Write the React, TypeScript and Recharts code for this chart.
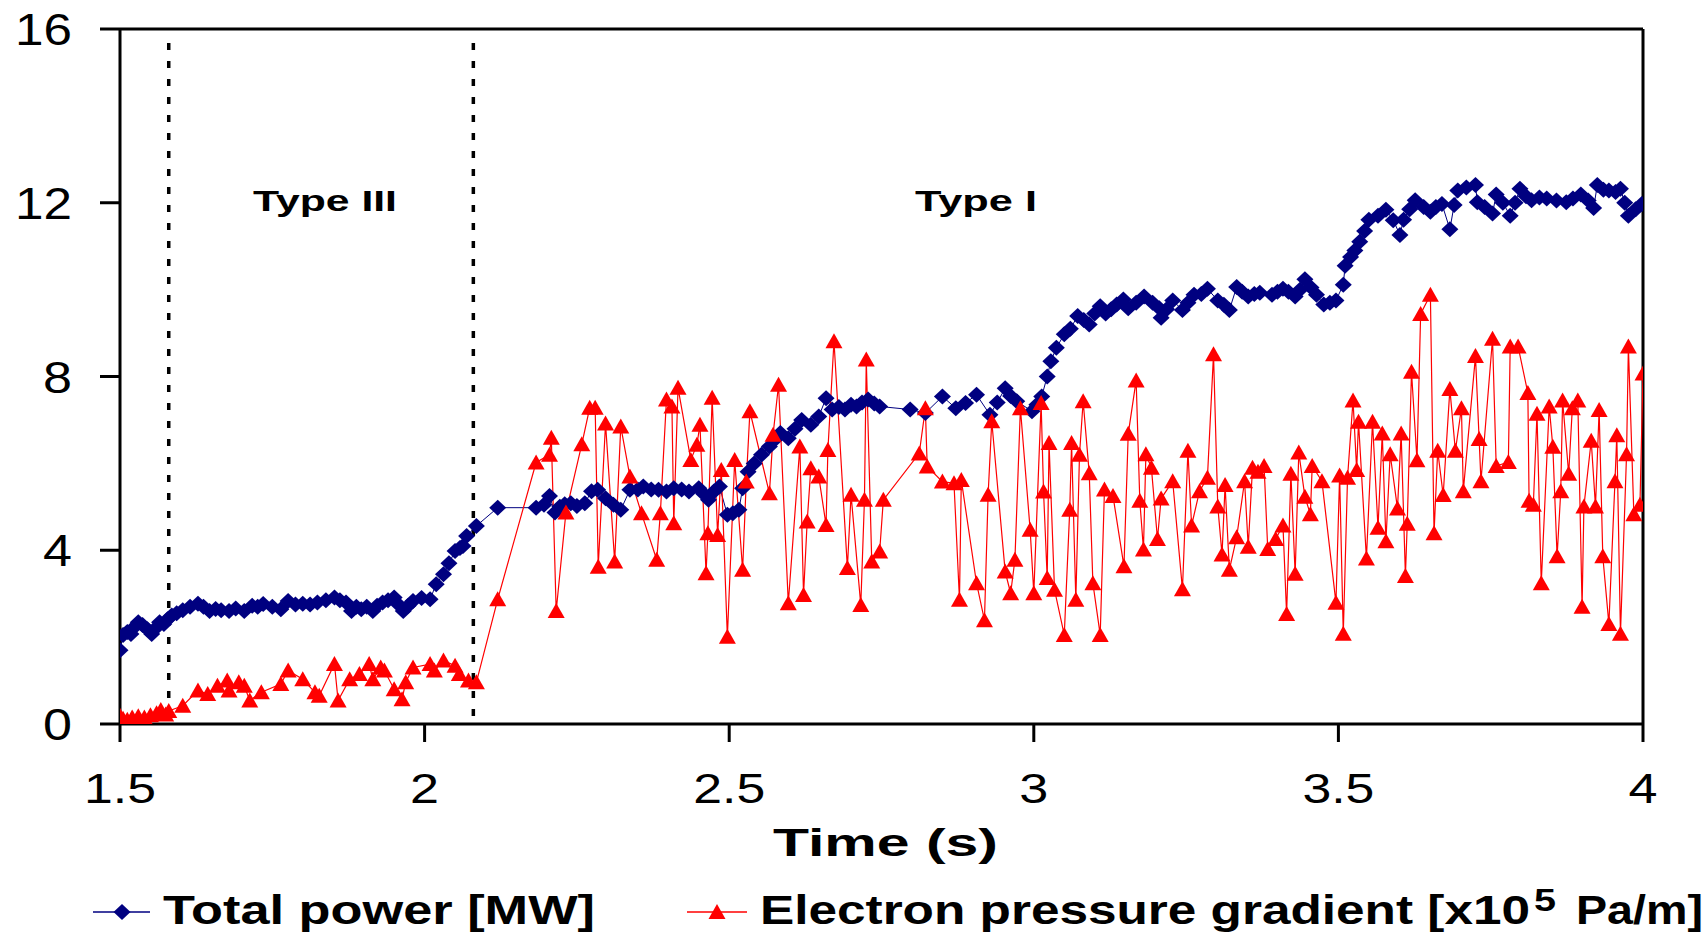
import React from 'react';
import { LineChart, Line, XAxis, YAxis, ReferenceLine } from 'recharts';

const FONT = '"Liberation Sans", Arial, sans-serif';
const NAVY = '#000080';
const RED = '#ff0000';

// Total power [MW]
const powerTime = [
  1.5, 1.505, 1.512, 1.518, 1.525, 1.53, 1.537, 1.545, 1.552, 1.558, 1.565, 1.572, 1.578, 1.585, 1.593,
  1.603, 1.615, 1.628, 1.637, 1.647, 1.657, 1.666, 1.679, 1.69, 1.704, 1.717, 1.726, 1.735, 1.75, 1.764,
  1.776, 1.788, 1.8, 1.812, 1.824, 1.838, 1.852, 1.861, 1.871, 1.88, 1.888, 1.896, 1.905, 1.915, 1.922,
  1.931, 1.94, 1.95, 1.957, 1.965, 1.973, 1.981, 1.995, 2.009, 2.019, 2.031, 2.04, 2.05, 2.058, 2.063,
  2.069, 2.085, 2.12, 2.183, 2.196, 2.205, 2.214, 2.222, 2.23, 2.24, 2.25, 2.263, 2.274, 2.284, 2.297,
  2.31, 2.322, 2.337, 2.35, 2.359, 2.372, 2.384, 2.397, 2.409, 2.422, 2.434, 2.45, 2.458, 2.466, 2.475,
  2.484, 2.497, 2.506, 2.516, 2.522, 2.531, 2.541, 2.553, 2.566, 2.575, 2.584, 2.597, 2.608, 2.619, 2.634,
  2.647, 2.659, 2.669, 2.68, 2.69, 2.7, 2.709, 2.718, 2.728, 2.738, 2.747, 2.797, 2.822, 2.85, 2.872,
  2.888, 2.906, 2.928, 2.94, 2.953, 2.962, 2.972, 2.997, 3.005, 3.013, 3.022, 3.028, 3.037, 3.05, 3.06,
  3.072, 3.082, 3.091, 3.1, 3.109, 3.118, 3.127, 3.136, 3.147, 3.155, 3.168, 3.181, 3.195, 3.206, 3.209,
  3.218, 3.228, 3.244, 3.253, 3.263, 3.275, 3.285, 3.302, 3.312, 3.321, 3.333, 3.342, 3.352, 3.362, 3.371,
  3.391, 3.4, 3.409, 3.418, 3.429, 3.437, 3.445, 3.455, 3.464, 3.476, 3.486, 3.496, 3.508, 3.511, 3.52,
  3.527, 3.535, 3.543, 3.55, 3.565, 3.578, 3.59, 3.601, 3.607, 3.617, 3.626, 3.64, 3.651, 3.66, 3.67,
  3.683, 3.69, 3.696, 3.71, 3.725, 3.728, 3.74, 3.753, 3.759, 3.77, 3.782, 3.79, 3.798, 3.808, 3.817,
  3.83, 3.842, 3.858, 3.874, 3.885, 3.898, 3.91, 3.919, 3.925, 3.935, 3.944, 3.955, 3.963, 3.97, 3.976,
  3.988, 3.998,
];
const powerValue = [
  1.7, 2.05, 2.12, 2.07, 2.25, 2.34, 2.28, 2.18, 2.07, 2.2, 2.34, 2.3, 2.41, 2.5, 2.55,
  2.62, 2.7, 2.77, 2.7, 2.6, 2.65, 2.62, 2.6, 2.66, 2.6, 2.72, 2.7, 2.76, 2.7, 2.64,
  2.83, 2.75, 2.77, 2.75, 2.8, 2.85, 2.91, 2.85, 2.8, 2.6, 2.7, 2.64, 2.7, 2.6, 2.72,
  2.8, 2.85, 2.91, 2.75, 2.6, 2.72, 2.83, 2.9, 2.87, 3.22, 3.45, 3.7, 3.98, 4.05, 4.1,
  4.33, 4.56, 4.98, 4.98, 5.05, 5.25, 4.87, 5.0, 5.06, 5.08, 5.02, 5.08, 5.36, 5.39, 5.2,
  5.05, 4.93, 5.39, 5.4, 5.47, 5.4, 5.39, 5.35, 5.43, 5.4, 5.35, 5.43, 5.3, 5.16, 5.35,
  5.47, 4.82, 4.85, 4.93, 5.43, 5.81, 6.0, 6.2, 6.39, 6.55, 6.7, 6.58, 6.8, 7.0, 6.89,
  7.08, 7.5, 7.24, 7.3, 7.24, 7.35, 7.31, 7.4, 7.47, 7.38, 7.31, 7.24, 7.16, 7.54, 7.27,
  7.39, 7.58, 7.12, 7.4, 7.73, 7.55, 7.43, 7.2, 7.35, 7.54, 8.0, 8.35, 8.66, 8.97, 9.1,
  9.39, 9.3, 9.2, 9.45, 9.62, 9.45, 9.55, 9.66, 9.77, 9.57, 9.7, 9.84, 9.7, 9.57, 9.35,
  9.55, 9.75, 9.53, 9.7, 9.88, 9.9, 10.02, 9.75, 9.65, 9.53, 10.06, 9.95, 9.84, 9.9, 9.93,
  9.88, 9.95, 10.02, 9.95, 9.84, 10.0, 10.24, 10.05, 9.88, 9.66, 9.7, 9.75, 10.11, 10.55, 10.75,
  10.9, 11.1, 11.35, 11.61, 11.7, 11.84, 11.6, 11.26, 11.61, 11.85, 12.06, 11.9, 11.79, 11.9, 11.97,
  11.39, 11.95, 12.28, 12.35, 12.41, 12.01, 11.9, 11.75, 12.19, 12.0, 11.7, 12.0, 12.32, 12.15, 12.06,
  12.12, 12.1, 12.05, 12.01, 12.1, 12.19, 12.05, 11.88, 12.41, 12.3, 12.28, 12.25, 12.32, 12.0, 11.7,
  11.85, 11.97,
];

// Electron pressure gradient [x10^5 Pa/m]
const gradTime = [
  1.5, 1.505, 1.512, 1.52, 1.53, 1.54, 1.55, 1.56, 1.567, 1.575, 1.58, 1.603, 1.628, 1.644, 1.66,
  1.676, 1.679, 1.695, 1.704, 1.713, 1.732, 1.764, 1.776, 1.8, 1.82, 1.827, 1.852, 1.858, 1.877, 1.893,
  1.909, 1.915, 1.928, 1.934, 1.95, 1.963, 1.969, 1.981, 2.009, 2.016, 2.031, 2.05, 2.057, 2.072, 2.085,
  2.12, 2.183, 2.205, 2.208, 2.216, 2.232, 2.258, 2.271, 2.28, 2.285, 2.297, 2.312, 2.322, 2.337, 2.356,
  2.381, 2.387, 2.397, 2.406, 2.409, 2.416, 2.437, 2.447, 2.452, 2.462, 2.465, 2.472, 2.481, 2.487, 2.497,
  2.509, 2.522, 2.528, 2.534, 2.566, 2.572, 2.581, 2.597, 2.616, 2.622, 2.628, 2.634, 2.647, 2.659, 2.662,
  2.672, 2.694, 2.7, 2.716, 2.722, 2.725, 2.734, 2.747, 2.753, 2.812, 2.822, 2.825, 2.85, 2.869, 2.878,
  2.881, 2.906, 2.919, 2.925, 2.931, 2.953, 2.962, 2.969, 2.978, 2.994, 3.0, 3.012, 3.016, 3.022, 3.025,
  3.034, 3.05, 3.059, 3.062, 3.069, 3.075, 3.081, 3.091, 3.097, 3.109, 3.116, 3.13, 3.148, 3.155, 3.168,
  3.174, 3.18, 3.184, 3.193, 3.203, 3.209, 3.228, 3.244, 3.253, 3.259, 3.272, 3.285, 3.295, 3.302, 3.309,
  3.314, 3.321, 3.333, 3.346, 3.352, 3.359, 3.368, 3.378, 3.384, 3.397, 3.409, 3.415, 3.422, 3.429, 3.435,
  3.445, 3.454, 3.457, 3.473, 3.496, 3.502, 3.508, 3.515, 3.524, 3.53, 3.533, 3.546, 3.556, 3.565, 3.572,
  3.578, 3.585, 3.597, 3.603, 3.61, 3.613, 3.62, 3.629, 3.635, 3.651, 3.657, 3.663, 3.672, 3.683, 3.692,
  3.702, 3.705, 3.725, 3.731, 3.734, 3.753, 3.759, 3.779, 3.782, 3.795, 3.811, 3.813, 3.82, 3.826, 3.833,
  3.846, 3.852, 3.859, 3.865, 3.868, 3.878, 3.884, 3.893, 3.9, 3.903, 3.915, 3.922, 3.928, 3.934, 3.944,
  3.954, 3.957, 3.963, 3.973, 3.976, 3.985, 3.995, 4.0,
];
const gradValue = [
  0.19, 0.12, 0.1, 0.15, 0.18, 0.15, 0.2, 0.25, 0.32, 0.22, 0.3, 0.42, 0.77, 0.69, 0.88,
  1.0, 0.77, 0.96, 0.88, 0.54, 0.73, 0.92, 1.23, 1.03, 0.73, 0.65, 1.38, 0.54, 1.03, 1.15,
  1.38, 1.03, 1.3, 1.23, 0.8, 0.57, 0.96, 1.3, 1.38, 1.23, 1.46, 1.34, 1.15, 1.0, 0.96,
  2.87, 6.02, 6.2, 6.59, 2.6, 4.87, 6.44, 7.28, 7.28, 3.62, 6.92, 3.74, 6.85, 5.7, 4.85,
  3.78, 4.85, 7.47, 7.31, 4.62, 7.74, 6.08, 6.43, 6.89, 3.47, 4.39, 7.51, 4.35, 5.85, 2.01,
  6.08, 3.55, 5.58, 7.2, 5.31, 6.66, 7.81, 2.78, 6.39, 2.97, 4.66, 5.89, 5.7, 4.58, 6.31,
  8.81, 3.59, 5.28, 2.74, 5.16, 8.39, 3.74, 3.97, 5.16, 6.23, 7.27, 5.93, 5.58, 5.54, 2.86,
  5.62, 3.24, 2.39, 5.28, 6.97, 3.51, 3.01, 3.78, 7.27, 4.47, 3.01, 7.39, 5.35, 3.36, 6.47,
  3.09, 2.05, 4.93, 6.47, 2.86, 6.2, 7.43, 5.77, 3.24, 2.05, 5.4, 5.25, 3.63, 6.68, 7.91,
  5.14, 4.02, 6.21, 5.9, 4.26, 5.19, 5.59, 3.1, 6.29, 4.57, 5.36, 5.67, 8.51, 5.01, 3.9,
  5.5, 3.55, 4.3, 5.59, 4.08, 5.9, 5.81, 5.94, 4.03, 4.26, 4.57, 2.53, 5.76, 3.46, 6.25,
  5.23, 4.83, 5.94, 5.59, 2.79, 5.72, 2.08, 5.67, 7.45, 5.85, 6.96, 3.81, 6.96, 4.52, 6.69,
  4.21, 6.21, 4.96, 6.69, 3.41, 4.61, 8.11, 6.07, 9.44, 9.88, 4.39, 6.29, 5.27, 7.71, 6.29,
  7.27, 5.36, 8.47, 6.56, 5.59, 8.87, 5.94, 6.03, 8.69, 8.69, 7.62, 5.14, 5.05, 7.14, 3.24,
  7.31, 6.38, 3.86, 5.36, 7.45, 5.76, 7.27, 7.45, 2.7, 5.01, 6.52, 5.01, 7.23, 3.86, 2.3,
  5.59, 6.65, 2.08, 6.21, 8.69, 4.83, 5.05, 8.07,
];

const timeTicks = [1.5, 2, 2.5, 3, 3.5, 4];
const valueTicks = [0, 4, 8, 12, 16];
const regimeBounds = [1.58, 2.08];

const powerData = powerTime.map((t, i) => ({ t, v: powerValue[i] }));
const gradData = gradTime.map((t, i) => ({ t, v: gradValue[i] }));

const diamond = (cx: number, cy: number) =>
  `${cx},${cy - 8} ${cx + 8.5},${cy} ${cx},${cy + 8} ${cx - 8.5},${cy}`;
const triangle = (cx: number, cy: number) =>
  `${cx},${cy - 8} ${cx + 8.5},${cy + 7} ${cx - 8.5},${cy + 7}`;

const renderDiamond = (props: any) => {
  const { cx, cy, index } = props;
  if (cx == null || cy == null) return <g key={index} />;
  return <polygon key={index} points={diamond(cx, cy)} fill={NAVY} />;
};

const renderTriangle = (props: any) => {
  const { cx, cy, index } = props;
  if (cx == null || cy == null) return <g key={index} />;
  return <polygon key={index} points={triangle(cx, cy)} fill={RED} />;
};

const XTick = (props: any) => {
  const { x, y, payload } = props;
  const s = String(payload.value);
  return (
    <text x={x} y={y + 61} textAnchor="middle" fontSize={43} fontFamily={FONT} fill="#000"
      textLength={s.length > 1 ? 72 : 29} lengthAdjust="spacingAndGlyphs">
      {s}
    </text>
  );
};

const YTick = (props: any) => {
  const { x, y, payload } = props;
  const s = String(payload.value);
  return (
    <text x={x} y={y + 16} textAnchor="end" fontSize={44} fontFamily={FONT} fill="#000"
      textLength={s.length > 1 ? 57 : 29} lengthAdjust="spacingAndGlyphs">
      {s}
    </text>
  );
};

const bold = { fontFamily: FONT, fontWeight: 700, fill: '#000' };

export default function App() {
  return (
    <div style={{ position: 'absolute', left: 0, top: 0, width: 1708, height: 932, background: '#fff' }}>
      <LineChart width={1708} height={932} margin={{ top: 29, right: 65, left: 0, bottom: 0 }}>
        <XAxis
          type="number"
          dataKey="t"
          domain={[1.5, 4]}
          ticks={timeTicks}
          allowDataOverflow
          height={208}
          tickSize={18}
          tickMargin={0}
          axisLine={{ stroke: '#000', strokeWidth: 3 }}
          tickLine={{ stroke: '#000', strokeWidth: 3 }}
          tick={<XTick />}
        />
        <YAxis
          type="number"
          domain={[0, 16]}
          ticks={valueTicks}
          allowDataOverflow
          width={120}
          tickSize={20}
          tickMargin={28}
          axisLine={{ stroke: '#000', strokeWidth: 3 }}
          tickLine={{ stroke: '#000', strokeWidth: 3 }}
          tick={<YTick />}
        />
        <ReferenceLine y={16} stroke="#000" strokeWidth={3} />
        <ReferenceLine x={4} stroke="#000" strokeWidth={3} />
        {regimeBounds.map((b) => (
          <ReferenceLine
            key={b}
            segment={[{ x: b, y: 15.68 }, { x: b, y: 0 }]}
            stroke="#000"
            strokeWidth={3.5}
            strokeDasharray="7 11"
          />
        ))}
        <Line
          data={powerData}
          dataKey="v"
          stroke={NAVY}
          strokeWidth={1}
          dot={renderDiamond}
          activeDot={false}
          isAnimationActive={false}
        />
        <Line
          data={gradData}
          dataKey="v"
          stroke={RED}
          strokeWidth={1.2}
          dot={renderTriangle}
          activeDot={false}
          isAnimationActive={false}
        />
      </LineChart>
      <svg width={1708} height={932} style={{ position: 'absolute', left: 0, top: 0, pointerEvents: 'none' }}>
        <text x={253} y={211} fontSize={30} textLength={144} lengthAdjust="spacingAndGlyphs" {...bold}>Type III</text>
        <text x={915} y={211} fontSize={30} textLength={122} lengthAdjust="spacingAndGlyphs" {...bold}>Type I</text>
        <text x={773} y={856} fontSize={38} textLength={225} lengthAdjust="spacingAndGlyphs" {...bold}>Time (s)</text>

        <line x1={93} x2={150} y1={912} y2={912} stroke={NAVY} strokeWidth={1.5} />
        <polygon points={diamond(122, 912)} fill={NAVY} />
        <text x={163} y={924} fontSize={40} textLength={432} lengthAdjust="spacingAndGlyphs" {...bold}>Total power [MW]</text>

        <line x1={687} x2={747} y1={912} y2={912} stroke={RED} strokeWidth={1.5} />
        <polygon points={triangle(717, 912)} fill={RED} />
        <text x={760} y={924} fontSize={40} textLength={770} lengthAdjust="spacingAndGlyphs" {...bold}>Electron pressure gradient [x10</text>
        <text x={1534} y={911} fontSize={32} textLength={22} lengthAdjust="spacingAndGlyphs" {...bold}>5</text>
        <text x={1576} y={924} fontSize={40} textLength={127} lengthAdjust="spacingAndGlyphs" {...bold}>Pa/m]</text>
      </svg>
    </div>
  );
}
